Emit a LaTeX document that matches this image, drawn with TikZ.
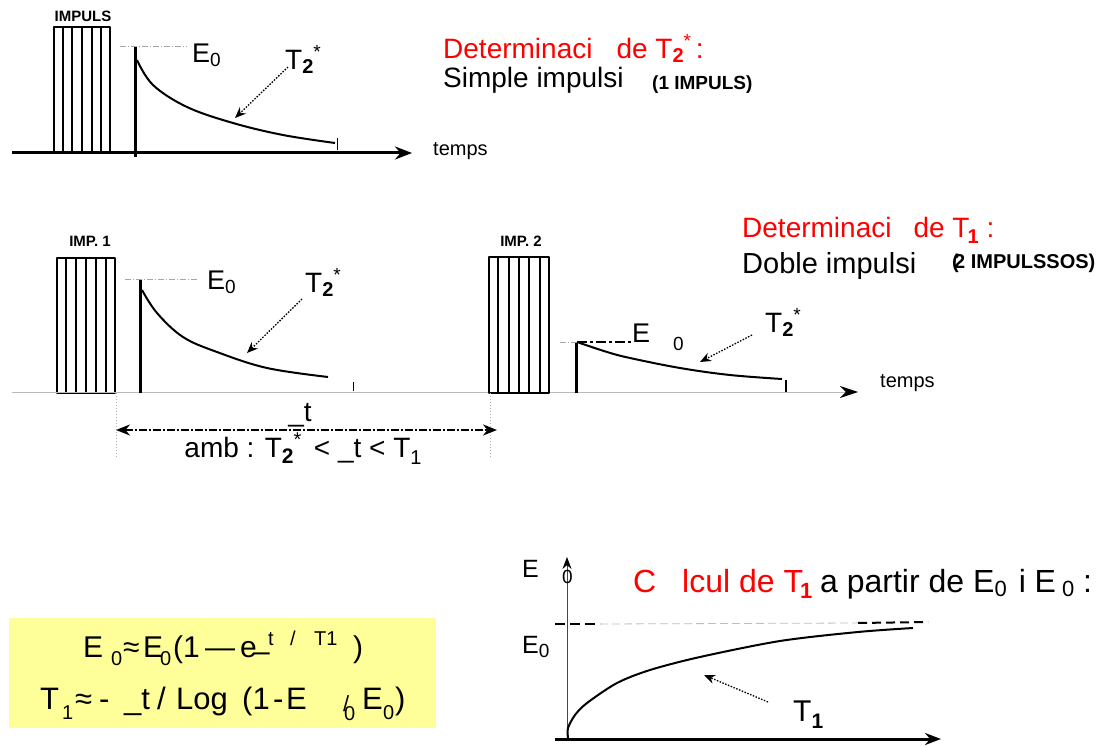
\documentclass[tikz,border=0pt]{standalone}
\usepackage{fontspec}
\setmainfont{Liberation Sans}
\usetikzlibrary{arrows.meta,calc}
\newcommand\fs[1]{\fontsize{#1}{#1}\selectfont}
\newcommand\lsub[2][19]{\raisebox{-4pt}{\fs{#1}#2}}
\newcommand\tstar[1][28]{{\fs{#1}T}\raisebox{-4pt}{\fs{20}\bfseries 2}\raisebox{11pt}{\fs{19}*}}
\definecolor{hlyellow}{RGB}{255,255,153}
\begin{document}
\begin{tikzpicture}[x=1pt,y=-1pt,line join=round,
  txt/.style={inner sep=0pt,anchor=base west,font=\fs{28}},
  lbl/.style={inner sep=0pt,anchor=base west,font=\fs{27}},
  bsmall/.style={inner sep=0pt,anchor=base,font=\fs{15}\bfseries},
  fpart/.style={inner sep=0pt,anchor=base west,font=\fs{30}},
  fpartb/.style={inner sep=0pt,anchor=base west,font=\fs{31}},
  fsub/.style={inner sep=0pt,anchor=base west,font=\fs{20}},
  fsup/.style={inner sep=0pt,anchor=base west,font=\fs{20}},
  pulse/.style={draw,line width=2pt,inner sep=0pt,fill=white},
  pline/.style={line width=1.8pt},
  axthick/.style={line width=3pt,-{Stealth[length=17pt,width=13pt]}},
  axthin/.style={draw=gray!55,line width=0.9pt,-{Stealth[length=18pt,width=12pt,color=black]}},
  vbar/.style={line width=3pt},
  refline/.style={draw=gray!70,line width=0.8pt,dash pattern=on 6pt off 2pt on 1pt off 2pt},
  decay/.style={line width=2pt},
  ptr/.style={line width=1.3pt,dash pattern=on 1.5pt off 1.5pt,-{Stealth[length=11pt,width=9pt]}},
  tick/.style={line width=1pt}
]
\useasboundingbox (0,0) rectangle (1104,746);

% ---------------- Panel 1 ----------------
\node[bsmall] (impl) at (83,22) {IMPULS};
\node[pulse,minimum width=56pt,minimum height=126pt] (p1) at (82,90) {};
\foreach \i in {1,...,5}
  \draw[pline] ($(p1.south west)!\i/6!(p1.south east)$) -- ($(p1.north west)!\i/6!(p1.north east)$);
\coordinate (a1s) at (12,153);
\coordinate (a1e) at (412,153);
\draw[axthick] (a1s) -- (a1e);
\coordinate (v1b) at (135,157);
\coordinate (v1t) at (135,46);
\draw[vbar] (v1b) -- (v1t);
\coordinate (r1s) at (120,46);
\coordinate (r1e) at (187,46);
\draw[refline] (r1s) -- (r1e);
\node[lbl] (e01) at (192,63) {E\lsub{0}};
\draw[decay] plot[smooth,tension=0.6] coordinates {(137,60) (153,85) (187,107) (233,123) (283,135) (335,143)};
\coordinate (k1a) at (337,138);
\coordinate (k1b) at (337,150);
\draw[tick] (k1a) -- (k1b);
\node[lbl] (t21) at (285,70) {\tstar};
\coordinate (q1a) at (288,67);
\coordinate (q1b) at (235,118);
\draw[ptr] (q1a) -- (q1b);
\node[inner sep=0pt,anchor=base west,font=\fs{20}] (tmp1) at (433,156) {temps};
\node[txt,red] (h1) at (443,59) {Determinaci\hspace{24pt}de \tstar\,:};
\node[txt] (s1) at (443,88) {Simple impulsi};
\node[inner sep=0pt,anchor=base west,font=\fs{19}\bfseries] (s1b) at (652,90) {(1 IMPULS)};

% ---------------- Panel 2 ----------------
\node[bsmall] (imp1l) at (90,247) {IMP. 1};
\node[pulse,minimum width=58pt,minimum height=135pt] (p2) at (86,325.5) {};
\foreach \i in {1,...,5}
  \draw[pline] ($(p2.south west)!\i/6!(p2.south east)$) -- ($(p2.north west)!\i/6!(p2.north east)$);
\node[bsmall] (imp2l) at (521,247) {IMP. 2};
\coordinate (a2s) at (12,392);
\coordinate (a2e) at (858,392);
\draw[axthin] (a2s) -- (a2e);
\node[pulse,minimum width=60pt,minimum height=136pt] (p3) at (519,325) {};
\foreach \i in {1,...,5}
  \draw[pline] ($(p3.south west)!\i/6!(p3.south east)$) -- ($(p3.north west)!\i/6!(p3.north east)$);
% first echo
\coordinate (v2b) at (140,393);
\coordinate (v2t) at (140,279);
\draw[vbar] (v2b) -- (v2t);
\coordinate (r2s) at (125,279);
\coordinate (r2e) at (198,279);
\draw[refline] (r2s) -- (r2e);
\node[lbl] (e02) at (207,290) {E\lsub{0}};
\draw[decay] plot[smooth,tension=0.6] coordinates {(142,290) (157,313) (183,337) (217,352) (267,368) (328,377)};
\coordinate (k2a) at (353,382);
\coordinate (k2b) at (353,391);
\draw[tick] (k2a) -- (k2b);
\node[lbl] (t22) at (305,293) {\tstar};
\coordinate (q2a) at (302,299);
\coordinate (q2b) at (247,353);
\draw[ptr] (q2a) -- (q2b);
% second echo
\coordinate (v3b) at (576,393);
\coordinate (v3t) at (576,342);
\draw[vbar] (v3b) -- (v3t);
\coordinate (r3s) at (560,342);
\coordinate (r3m) at (577,342);
\coordinate (r3e) at (632,342);
\draw[refline] (r3s) -- (r3m);
\draw[line width=2pt,dash pattern=on 10pt off 3pt on 3pt off 3pt] (r3m) -- (r3e);
\node[lbl] (e03) at (632,342) {E};
\node[inner sep=0pt,anchor=base west,font=\fs{19}] (e03s) at (673,350) {0};
\draw[decay] plot[smooth,tension=0.6] coordinates {(577,342) (607,352) (630,358) (680,368) (730,375) (782,379)};
\coordinate (k3a) at (786,380);
\coordinate (k3b) at (786,392);
\draw[line width=2pt] (k3a) -- (k3b);
\node[lbl] (t23) at (765,333) {\tstar};
\coordinate (q3a) at (752,335);
\coordinate (q3b) at (700,362);
\draw[ptr] (q3a) -- (q3b);
\node[inner sep=0pt,anchor=base west,font=\fs{20}] (tmp2) at (880,388) {temps};
% dimension
\coordinate (d1a) at (116,393);
\coordinate (d1b) at (116,458);
\coordinate (d2a) at (490,393);
\coordinate (d2b) at (490,458);
\draw[gray!60,line width=1pt,dotted] (d1a) -- (d1b);
\draw[gray!60,line width=1pt,dotted] (d2a) -- (d2b);
\coordinate (da) at (116,430);
\coordinate (db) at (497,430);
\draw[line width=2pt,dash pattern=on 8pt off 2pt on 2pt off 2pt,
  {Stealth[length=14pt,width=11pt]}-{Stealth[length=14pt,width=11pt]}] (da) -- (db);
\node[inner sep=0pt,anchor=base,font=\fs{28}] (dt) at (300,421) {\_t};
\node[inner sep=0pt,anchor=base,font=\fs{28}] (amb) at (303,457)
  {amb : T\raisebox{-6pt}{\fs{21}\bfseries 2}\raisebox{11pt}{\fs{20}*}\, < \_t < T\raisebox{-7pt}{\fs{20}1}};
\node[txt,red] (h2) at (742,238) {Determinaci\hspace{22pt}de T\kern-2pt\raisebox{-6pt}{\fs{20}\bfseries 1} :};
\node[txt,font=\fs{29}] (s2) at (742,274) {Doble impulsi};
\node[inner sep=0pt,anchor=base west,font=\fs{20}\bfseries] (s2b) at (952,269) {\rlap{(}\kern2pt2 IMPULSSOS)};

% ---------------- Panel 3 ----------------
\node[fill=hlyellow,inner sep=0pt,minimum width=427pt,minimum height=110pt] (yb) at (222.5,673) {};
% line 1
\node[fpart] (f1a) at (83,657) {E};
\node[fsub] (f1b) at (111,665) {0};
\node[fpart] (f1c) at (123,657) {≈};
\node[fpart] (f1d) at (143,657) {E};
\node[fsub] (f1e) at (160,665) {0};
\node[fpart] (f1f) at (173,657) {(1};
\node[fpart] (f1g) at (205,657) {—};
\node[fpart] (f1h) at (240,657) {e};
\node[fpart] (f1i) at (253,661) {–};
\node[fsup] (f1j) at (268,645) {t};
\node[fsup] (f1k) at (290,645) {/};
\node[fsup] (f1l) at (314,645) {T1};
\node[fpart] (f1m) at (353,657) {)};
% line 2
\node[fpartb] (f2a) at (40,709) {T};
\node[fsub] (f2b) at (62,719) {1};
\node[fpartb] (f2c) at (75,709) {≈};
\node[fpartb] (f2d) at (99,709) {-};
\node[fpartb] (f2e) at (124,709) {\_t};
\node[fpartb] (f2f) at (157,709) {/};
\node[fpartb] (f2g) at (176,709) {Log};
\node[fpartb] (f2h) at (242,709) {(1};
\node[fpartb] (f2i) at (273,709) {-};
\node[fpartb] (f2j) at (286,709) {E};
\node[fsub] (f2k) at (344,720) {0};
\node[inner sep=0pt,anchor=base west,font=\fs{22}] (f2l) at (343,711) {/};
\node[fpartb] (f2m) at (362,709) {E};
\node[fsub] (f2n) at (383,719) {0};
\node[fpartb] (f2o) at (395,709) {)};

% graph
\coordinate (gx0) at (567,739);
\coordinate (gyt) at (567,557);
\draw[draw=gray!55!black,line width=0.8pt,-{Stealth[length=12pt,width=9pt,color=black]}] (gx0) -- (gyt);
\coordinate (gxs) at (555,739);
\coordinate (gxe) at (941,739);
\draw[line width=3pt,-{Stealth[length=16pt,width=12pt]}] (gxs) -- (gxe);
\coordinate (g1) at (555,624);
\coordinate (g2) at (600,624);
\coordinate (g3) at (858,623);
\coordinate (g4) at (928,622);
\draw[line width=2pt,dash pattern=on 10pt off 5pt] (g1) -- (g2);
\draw[gray!50,line width=0.8pt,dash pattern=on 8pt off 4pt] (g2) -- (g3);
\draw[line width=2pt,dash pattern=on 9pt off 5pt] (g3) -- (g4);
\draw[decay] plot[smooth,tension=0.5] coordinates {(568,738) (568,728) (575,715) (587,703) (617,683) (650,670) (700,657) (780,641) (858,632) (913,628)};
\node[inner sep=0pt,anchor=base west,font=\fs{25}] (ge) at (522,577) {E};
\node[inner sep=0pt,anchor=base west,font=\fs{19}] (ges) at (562,583) {0};
\node[inner sep=0pt,anchor=base west,font=\fs{25}] (ge0) at (522,653) {E\lsub{0}};
\node[inner sep=0pt,anchor=base west,font=\fs{30}] (gt1) at (793,721) {T\raisebox{-7pt}{\fs{21}\bfseries 1}};
\coordinate (q4a) at (768,702);
\coordinate (q4b) at (704,675);
\draw[ptr] (q4a) -- (q4b);
\node[txt,red,font=\fs{32}] (c1) at (633,592) {C};
\node[txt,red,font=\fs{32}] (c2) at (682,592) {lcul de T\kern-3pt\raisebox{-6pt}{\fs{22}\bfseries 1}};
\node[txt,font=\fs{32}] (c3) at (820,592) {a partir de E\lsub[22]{0}\kern12pt i E\kern6pt\lsub[22]{0} :};
\end{tikzpicture}
\end{document}
